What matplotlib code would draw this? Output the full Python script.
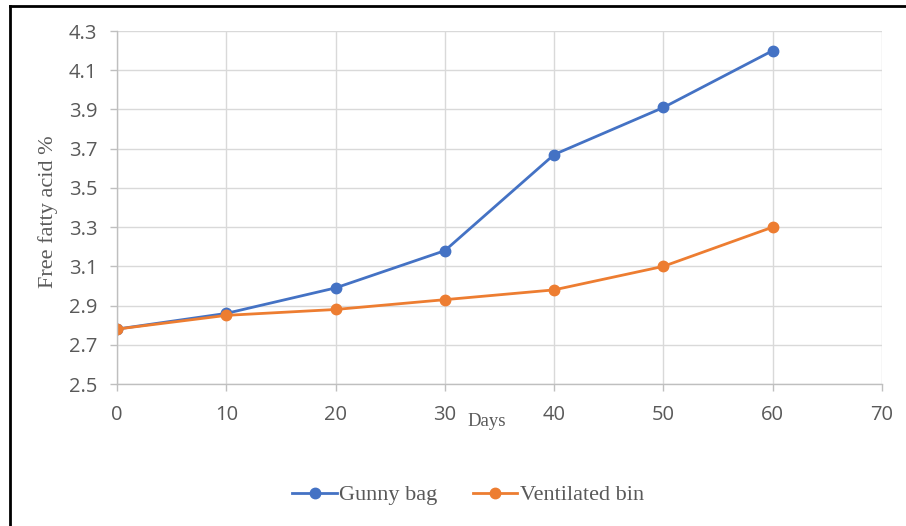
import matplotlib
matplotlib.use("Agg")
import matplotlib.pyplot as plt
from matplotlib.lines import Line2D

## Data
days = [0, 10, 20, 30, 40, 50, 60]
gunny_bag = [2.78, 2.86, 2.99, 3.18, 3.67, 3.91, 4.20]
ventilated_bin = [2.78, 2.85, 2.88, 2.93, 2.98, 3.10, 3.30]
y_ticks = [2.5, 2.7, 2.9, 3.1, 3.3, 3.5, 3.7, 3.9, 4.1, 4.3]
x_ticks = [0, 10, 20, 30, 40, 50, 60, 70]

W, H = 906, 526
fig = plt.figure(figsize=(W / 100, H / 100), dpi=100)
ax = fig.add_axes([117 / W, 1 - 384 / H, (882 - 117) / W, (384 - 31) / H])

ax.plot(days, gunny_bag, color="#4472C4", lw=2, marker="o", ms=7.5, label="Gunny bag")
ax.plot(days, ventilated_bin, color="#ED7D31", lw=2, marker="o", ms=7.5, label="Ventilated bin")

ax.set_xlim(0, 70)
ax.set_ylim(2.5, 4.3)
ax.set_xticks(x_ticks)
ax.set_yticks(y_ticks)
ax.set_yticklabels([f"{v:.1f}" for v in y_ticks])
ax.grid(True, color="#d9d9d9", lw=1)
ax.set_axisbelow(True)
for s in ["top", "right"]:
    ax.spines[s].set_visible(False)
for s in ["left", "bottom"]:
    ax.spines[s].set_color("#bfbfbf")
    ax.spines[s].set_linewidth(1)
ax.tick_params(axis="both", colors="#bfbfbf", length=5, width=1,
               labelcolor="#595959", labelsize=14.5)
ax.tick_params(axis="y", pad=9)
ax.tick_params(axis="x", pad=10)
for lab in ax.get_xticklabels() + ax.get_yticklabels():
    lab.set_family(["Open Sans", "DejaVu Sans"])

fig.text(48 / W, 1 - 212 / H, "Free fatty acid %", rotation=90, ha="center", va="center",
         family="Liberation Serif", fontsize=16, color="#595959")
fig.text(487 / W, 1 - 422 / H, "Days", ha="center", va="center",
         family="Liberation Serif", fontsize=13.5, color="#595959")

leg = fig.legend(loc="center", bbox_to_anchor=(468 / W, 1 - 495 / H), ncol=2, frameon=False,
                 prop={"family": "Liberation Serif", "size": 16}, handlelength=2.0,
                 handletextpad=0.1, columnspacing=1.6)
for t in leg.get_texts():
    t.set_color("#595959")

# outer frame (left and top only)
fig.add_artist(Line2D([10 / W, 10 / W], [0, 1 - 6 / H], color="black", lw=2))
fig.add_artist(Line2D([10 / W, 1], [1 - 6 / H, 1 - 6 / H], color="black", lw=2))

fig.savefig("out.png", dpi=100)
